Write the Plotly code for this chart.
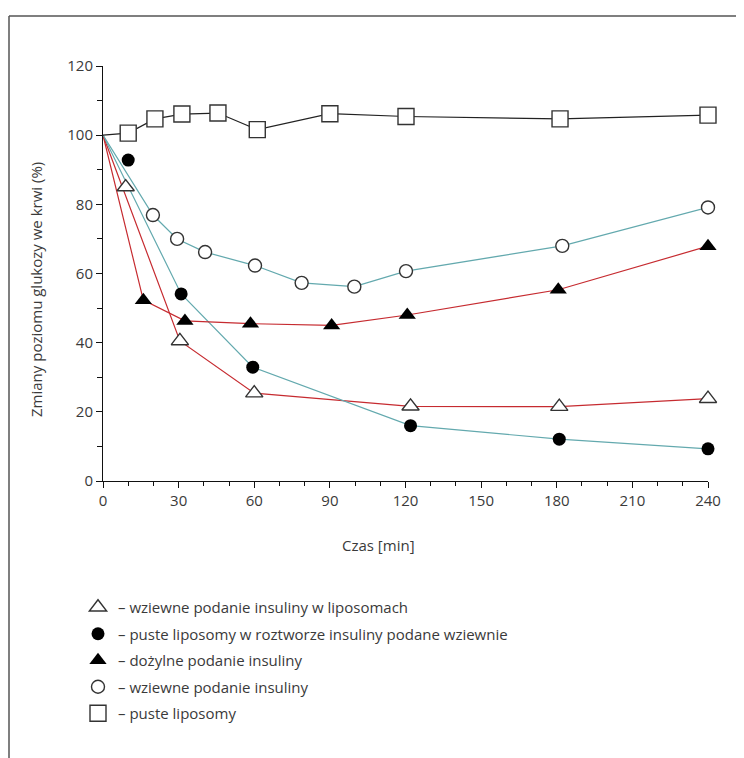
import plotly.graph_objects as go

# ---------------- data ----------------
baseline_time = 0
baseline_value = 100

# open triangles – wziewne podanie insuliny w liposomach
t_open_tri = [9, 30.5, 60, 122, 181, 240]
v_open_tri = [85, 40.5, 25.4, 21.6, 21.5, 23.8]

# filled circles – puste liposomy w roztworze insuliny podane wziewnie
t_fill_circ = [10, 31, 59.4, 122, 181, 240]
v_fill_circ = [92.8, 54.1, 32.9, 16.0, 12.1, 9.3]

# filled triangles – dożylne podanie insuliny
t_fill_tri = [16, 32.5, 58.5, 90.7, 120.7, 180.6, 240]
v_fill_tri = [52.3, 46.3, 45.5, 45.0, 48.0, 55.3, 67.9]

# open circles – wziewne podanie insuliny
t_open_circ = [19.8, 29.4, 40.5, 60.3, 78.8, 99.7, 120.2, 182.2, 240]
v_open_circ = [76.9, 70.0, 66.2, 62.3, 57.3, 56.2, 60.7, 68.0, 79.1]

# open squares – puste liposomy
t_square = [10, 20.6, 31.3, 45.6, 61.2, 90, 120.2, 181.3, 240]
v_square = [100.6, 104.7, 106.1, 106.4, 101.6, 106.2, 105.4, 104.7, 105.8]

legend_labels = [
    "– wziewne podanie insuliny w liposomach",
    "– puste liposomy w roztworze insuliny podane wziewnie",
    "– dożylne podanie insuliny",
    "– wziewne podanie insuliny",
    "– puste liposomy",
]

x_ticks = [0, 30, 60, 90, 120, 150, 180, 210, 240]
y_ticks = [0, 20, 40, 60, 80, 100, 120]
x_title = "Czas [min]"
y_title = "Zmiany poziomu glukozy we krwi (%)"

# ---------------- styling ----------------
TEAL = "#63a9ae"
RED = "#c62b30"
BLACK = "#222222"
TXT = "#3a3a3a"
FONT = "Open Sans"
FS = 15

fig = go.Figure()

# connecting lines (drawn from the 0-min baseline; the 10-min points of
# the triangle/circle series sit off the drawn line in the original)
line_specs = [
    (t_open_tri[1:], v_open_tri[1:], RED),
    (t_fill_circ[1:], v_fill_circ[1:], TEAL),
    (t_fill_tri, v_fill_tri, RED),
    (t_open_circ, v_open_circ, TEAL),
    (t_square, v_square, BLACK),
]
for tx, vy, col in line_specs:
    fig.add_trace(go.Scatter(
        x=[baseline_time] + list(tx), y=[baseline_value] + list(vy),
        mode="lines", line=dict(color=col, width=1.2),
        showlegend=False, hoverinfo="skip", cliponaxis=False))

marker_specs = [
    (t_open_tri, v_open_tri, "triangle-up-open", 15, "#333333"),
    (t_fill_circ, v_fill_circ, "circle", 13, "#000000"),
    (t_fill_tri, v_fill_tri, "triangle-up", 15, "#000000"),
    (t_open_circ, v_open_circ, "circle-open", 13, "#333333"),
    (t_square, v_square, "square-open", 16, "#333333"),
]
for i, ((tx, vy, sym, sz, col), lab) in enumerate(zip(marker_specs, legend_labels)):
    filled = not sym.endswith("open")
    base_sym = sym.replace("-open", "")
    fig.add_trace(go.Scatter(
        x=tx, y=vy, mode="markers", name=lab, legendgroup=f"g{i}",
        marker=dict(symbol=base_sym, size=sz,
                    color=col if filled else "white",
                    line=dict(color=col, width=1.4 if not filled else 0)),
        cliponaxis=False))

# the page body adds an 8 px offset; figure coordinates below are
# given in screenshot pixels and converted
OFF = 8
W, H = 744 - OFF, 758 - OFF
L, R, T, B = 103 - OFF, 36, 66 - OFF, 277
pw, ph = W - L - R, H - T - B


def px_x(p):
    return (p - OFF - L) / pw


def px_y(p):
    return (H - B - (p - OFF)) / ph


fig.update_layout(
    width=W, height=H,
    margin=dict(l=L, r=R, t=T, b=B, pad=0),
    paper_bgcolor="white", plot_bgcolor="white",
    font=dict(family=FONT, size=FS, color=TXT),
    showlegend=True,
    legend=dict(x=px_x(78), y=px_y(591), xanchor="left", yanchor="top",
                bgcolor="rgba(0,0,0,0)", tracegroupgap=4,
                font=dict(family=FONT, size=FS, color=TXT),
                itemsizing="trace"),
    xaxis=dict(range=[0, 240], tickvals=x_ticks, showgrid=False, zeroline=False,
               showline=True, linecolor="#111", linewidth=1,
               ticks="outside", ticklen=6, tickcolor="#111", tickwidth=1,
               minor=dict(dtick=10, ticks="outside", ticklen=4, tickcolor="#111"),
               tickfont=dict(family=FONT, size=FS, color=TXT)),
    yaxis=dict(range=[0, 120], tickvals=y_ticks, showgrid=False, zeroline=False,
               showline=True, linecolor="#111", linewidth=1,
               ticks="outside", ticklen=6, tickcolor="#111", tickwidth=1,
               minor=dict(dtick=10, ticks="outside", ticklen=5, tickcolor="#111"),
               tickfont=dict(family=FONT, size=FS, color=TXT)),
    annotations=[
        dict(text=x_title, xref="paper", yref="paper", x=px_x(378), y=px_y(545),
             showarrow=False, xanchor="center", yanchor="middle",
             font=dict(family=FONT, size=FS, color=TXT)),
        dict(text=y_title, xref="paper", yref="paper", x=px_x(36), y=px_y(290),
             showarrow=False, xanchor="center", yanchor="middle", textangle=-90,
             font=dict(family=FONT, size=FS, color=TXT)),
    ],
    shapes=[
        dict(type="line", xref="paper", yref="paper",
             x0=px_x(9), y0=px_y(770), x1=px_x(9), y1=px_y(16),
             line=dict(color="#555", width=1.5)),
        dict(type="line", xref="paper", yref="paper",
             x0=px_x(9), y0=px_y(16), x1=px_x(760), y1=px_y(16),
             line=dict(color="#555", width=1.5)),
    ],
)

fig.write_html("out.html")
